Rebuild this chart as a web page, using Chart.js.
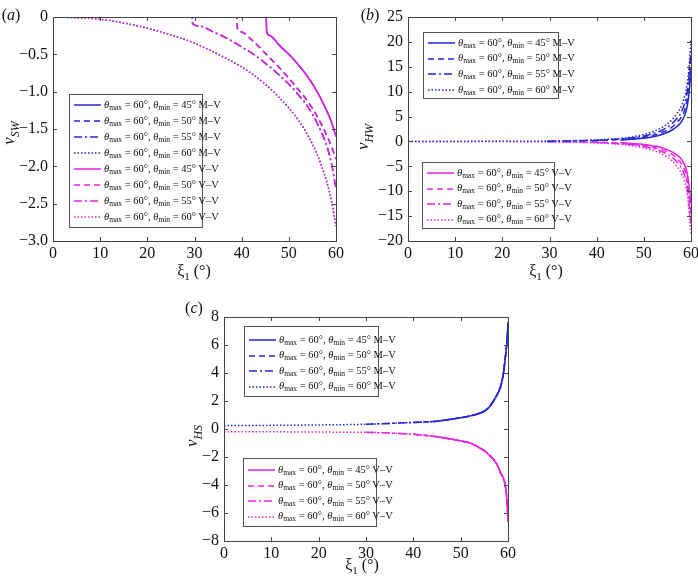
<!DOCTYPE html>
<html><head><meta charset="utf-8">
<script src="https://cdn.jsdelivr.net/npm/chart.js@4/dist/chart.umd.min.js"></script>
<style>
body{margin:0;background:#fff;width:698px;height:583px;position:relative;overflow:hidden;font-family:"Liberation Serif",serif;color:#111;}
canvas{position:absolute;}
.lbl{position:absolute;font-family:"Liberation Serif",serif;font-size:16px;color:#111;white-space:nowrap;transform:translate(-50%,-50%);}
.ytitle{transform:translate(-50%,-50%) rotate(-90deg);font-size:17px;}
.ytitle sub{font-size:12px;}
.legend{position:absolute;border:1px solid #555;background:#fff;box-sizing:border-box;}
.row{position:absolute;left:0;height:14px;display:flex;align-items:center;font-size:10.5px;white-space:nowrap;font-family:"Liberation Serif",serif;color:#111;}
.row sub{font-size:7.5px;vertical-align:-2px;}
.row svg{margin-right:3px;}
</style>
</head><body>
<canvas id="ca" width="350" height="290"></canvas>
<canvas id="cb" width="348" height="290"></canvas>
<canvas id="cc" width="380" height="293"></canvas>
<script>
// ---------- data ----------
const xTicks = [0, 10, 20, 30, 40, 50, 60];
const seriesLabels = ["45°", "50°", "55°", "60°"];
// (a) v_SW
const xiA45 = [0, 45.2, 45.3, 46, 48, 50, 52, 54, 56, 58, 59, 60];
const vSW45 = [0, 0, -0.2, -0.25, -0.38, -0.5, -0.64, -0.8, -1.0, -1.25, -1.4, -1.6];
const xiA50 = [0, 39, 39.1, 40, 42, 44, 46, 48, 50, 52, 54, 56, 58, 59, 60];
const vSW50 = [0, 0, -0.15, -0.2, -0.3, -0.42, -0.55, -0.68, -0.82, -0.97, -1.13, -1.33, -1.58, -1.73, -1.9];
const xiA55 = [0, 29.5, 29.6, 31, 34, 37, 40, 43, 46, 48, 50, 52, 54, 56, 58, 59, 60];
const vSW55 = [0, 0, -0.09, -0.12, -0.2, -0.29, -0.4, -0.52, -0.67, -0.78, -0.9, -1.04, -1.2, -1.42, -1.72, -1.95, -2.3];
const xiA60 = [0, 5, 10, 15, 20, 25, 30, 35, 40, 45, 50, 52, 54, 56, 58, 59, 60];
const vSW60 = [0, -0.01, -0.03, -0.08, -0.15, -0.24, -0.35, -0.5, -0.67, -0.9, -1.22, -1.38, -1.58, -1.84, -2.2, -2.45, -2.8];
// (b) v_HW
const xiB45 = [45, 48, 50, 52, 54, 56, 57, 58, 59, 59.5, 60];
const vHW45MV = [0.3, 0.48, 0.65, 0.95, 1.45, 2.3, 3.0, 4.0, 6.2, 9, 14];
const vHW45VV = [-0.28, -0.44, -0.6, -0.9, -1.3, -2.1, -2.7, -3.6, -5.6, -8.2, -12.5];
const xiB50 = [39, 42, 45, 48, 50, 52, 54, 56, 57, 58, 59, 59.5, 60];
const vHW50MV = [0.15, 0.25, 0.4, 0.62, 0.85, 1.25, 1.85, 2.9, 3.8, 5.0, 7.5, 11, 16.5];
const vHW50VV = [-0.14, -0.23, -0.37, -0.58, -0.8, -1.15, -1.7, -2.6, -3.4, -4.5, -6.8, -10, -14.5];
const xiB55 = [29.5, 35, 40, 45, 48, 50, 52, 54, 56, 57, 58, 59, 59.5, 60];
const vHW55MV = [0.05, 0.12, 0.25, 0.5, 0.8, 1.1, 1.6, 2.3, 3.6, 4.6, 6.0, 9, 12.5, 18.5];
const vHW55VV = [-0.05, -0.11, -0.23, -0.46, -0.72, -1.0, -1.45, -2.1, -3.2, -4.1, -5.4, -8, -11.5, -16.5];
const xiB60 = [0, 10, 20, 30, 35, 40, 45, 48, 50, 52, 54, 56, 57, 58, 59, 59.5, 60];
const vHW60MV = [0, 0.01, 0.03, 0.08, 0.15, 0.3, 0.62, 1.0, 1.4, 2.0, 2.9, 4.4, 5.6, 7.2, 10.5, 14, 20.5];
const vHW60VV = [0, -0.01, -0.03, -0.08, -0.14, -0.28, -0.58, -0.92, -1.3, -1.8, -2.6, -3.9, -5.0, -6.5, -9.5, -13, -18.5];
// (c) v_HS
const xiC = [0, 10, 20, 30, 35, 40, 45, 48, 50, 52, 54, 55, 56, 57, 58, 58.5, 59, 59.5, 59.8, 60];
const vHSMV = [0.24, 0.26, 0.29, 0.34, 0.4, 0.47, 0.56, 0.7, 0.8, 0.93, 1.12, 1.28, 1.55, 2.05, 2.65, 3.1, 3.9, 5.3, 6.3, 7.6];
const vHSVV = [-0.19, -0.2, -0.22, -0.24, -0.29, -0.38, -0.55, -0.72, -0.85, -1.0, -1.35, -1.55, -1.85, -2.2, -2.75, -3.2, -3.5, -4.2, -5.2, -6.6];
const startC = [45, 39, 29.5, 0];

// ---------- styles ----------
const BLUE = "#2323d8", MAG = "#e822e2";
const DASHES = [[], [6, 4], [8, 3, 2, 3], [1.5, 2]];

function pts(xs, ys) { return xs.map((x, i) => ({ x: x, y: ys[i] })); }
function ds(xs, ys, color, k) {
  return { data: pts(xs, ys), borderColor: color, borderWidth: 1.5, borderDash: DASHES[k],
           pointRadius: 0, fill: false, cubicInterpolationMode: "monotone" };
}
function fmtMinus(v, dec) {
  if (v === 0) return "0";
  const s = Math.abs(v).toFixed(dec);
  return (v < 0 ? "\u2212" : "") + s;
}

const framePlugin = {
  id: "frame",
  afterDraw(chart) {
    const { ctx, chartArea: a, scales } = chart;
    ctx.save();
    ctx.strokeStyle = "#444"; ctx.lineWidth = 1;
    ctx.strokeRect(Math.round(a.left) + 0.5, Math.round(a.top) + 0.5, Math.round(a.right - a.left), Math.round(a.bottom - a.top));
    ctx.beginPath();
    scales.x.ticks.forEach(t => {
      const px = Math.round(scales.x.getPixelForValue(t.value)) + 0.5;
      ctx.moveTo(px, a.bottom); ctx.lineTo(px, a.bottom - 4);
      ctx.moveTo(px, a.top); ctx.lineTo(px, a.top + 4);
    });
    scales.y.ticks.forEach(t => {
      const py = Math.round(scales.y.getPixelForValue(t.value)) + 0.5;
      ctx.moveTo(a.left, py); ctx.lineTo(a.left + 4, py);
      ctx.moveTo(a.right, py); ctx.lineTo(a.right - 4, py);
    });
    ctx.stroke();
    ctx.restore();
  }
};

const YW = 50;
function mk(id, box, datasets, yMin, yMax, yStep, dec) {
  const cv = document.getElementById(id);
  cv.style.left = box.left + "px"; cv.style.top = box.top + "px";
  const font = { family: "Liberation Serif", size: 16 };
  return new Chart(cv, {
    type: "line",
    data: { datasets: datasets },
    plugins: [framePlugin],
    options: {
      responsive: false, animation: false,
      layout: { padding: { left: box.al - box.left - YW, top: box.at - box.top, right: box.left + box.w - box.ar, bottom: 0 } },
      plugins: { legend: { display: false }, tooltip: { enabled: false } },
      scales: {
        x: { type: "linear", min: 0, max: 60,
             afterBuildTicks: s => { s.ticks = xTicks.map(v => ({ value: v })); },
             afterFit: s => { s.height = box.top + box.h - box.ab; s.paddingLeft = 0; s.paddingRight = 0; },
             grid: { display: false, drawTicks: false, tickLength: 0 }, border: { display: false },
             ticks: { font: font, color: "#111", padding: 3, maxRotation: 0, callback: v => String(v) } },
        y: { type: "linear", min: yMin, max: yMax,
             ticks: { stepSize: yStep, font: font, color: "#111", padding: 5, callback: v => fmtMinus(v, dec) },
             afterFit: s => { s.width = YW; s.paddingTop = 0; s.paddingBottom = 0; },
             grid: { display: false, drawTicks: false, tickLength: 0 }, border: { display: false } }
      }
    }
  });
}

// (a)
const dsA = [];
[[xiA45, vSW45], [xiA50, vSW50], [xiA55, vSW55], [xiA60, vSW60]].forEach((p, k) => dsA.push(ds(p[0], p[1], MAG, k)));
[[xiA45, vSW45], [xiA50, vSW50], [xiA55, vSW55], [xiA60, vSW60]].forEach((p, k) => dsA.push(ds(p[0], p[1], BLUE, k)));
mk("ca", { left: 0, top: 0, w: 350, h: 290, al: 53, at: 17, ar: 336, ab: 241 }, dsA, -3, 0, 0.5, 1);

// (b)
const dsB = [
  ds(xiB45, vHW45MV, BLUE, 0), ds(xiB50, vHW50MV, BLUE, 1), ds(xiB55, vHW55MV, BLUE, 2), ds(xiB60, vHW60MV, BLUE, 3),
  ds(xiB45, vHW45VV, MAG, 0), ds(xiB50, vHW50VV, MAG, 1), ds(xiB55, vHW55VV, MAG, 2), ds(xiB60, vHW60VV, MAG, 3)
];
mk("cb", { left: 350, top: 0, w: 348, h: 290, al: 408, at: 17, ar: 691, ab: 241 }, dsB, -20, 25, 5, 0);

// (c)
const dsC = [];
startC.forEach((s0, k) => {
  const idx = xiC.map((x, i) => i).filter(i => xiC[i] >= s0);
  dsC.push(ds(idx.map(i => xiC[i]), idx.map(i => vHSMV[i]), BLUE, k));
});
startC.forEach((s0, k) => {
  const idx = xiC.map((x, i) => i).filter(i => xiC[i] >= s0);
  dsC.push(ds(idx.map(i => xiC[i]), idx.map(i => vHSVV[i]), MAG, k));
});
mk("cc", { left: 150, top: 290, w: 380, h: 293, al: 224, at: 317, ar: 508, ab: 541 }, dsC, -8, 8, 2, 0);

// ---------- html text ----------
function addLbl(html, x, y, cls) {
  const d = document.createElement("div");
  d.className = "lbl" + (cls ? " " + cls : "");
  d.innerHTML = html; d.style.left = x + "px"; d.style.top = y + "px";
  document.body.appendChild(d);
}
addLbl("(<i>a</i>)", 11, 15); addLbl("(<i>b</i>)", 370, 15); addLbl("(<i>c</i>)", 194, 308);
addLbl("<i>v</i><sub><i>SW</i></sub>", 11, 133, "ytitle");
addLbl("<i>v</i><sub><i>HW</i></sub>", 365, 137, "ytitle");
addLbl("<i>v</i><sub><i>HS</i></sub>", 194, 436, "ytitle");
addLbl("ξ<sub style='font-size:11px'>1</sub> (°)", 194, 272);
addLbl("ξ<sub style='font-size:11px'>1</sub> (°)", 546, 272);
addLbl("ξ<sub style='font-size:11px'>1</sub> (°)", 362, 566);

function lineSvg(color, k) {
  const da = DASHES[k].length ? DASHES[k].join(",") : "none";
  return `<svg width="27" height="6"><line x1="0" y1="3" x2="27" y2="3" stroke="${color}" stroke-width="1.5" stroke-dasharray="${da}"/></svg>`;
}
function legend(x, y, w, h, rows, rowStep, firstRow) {
  const d = document.createElement("div");
  d.className = "legend";
  d.style.left = x + "px"; d.style.top = y + "px"; d.style.width = w + "px"; d.style.height = h + "px";
  rows.forEach((r, i) => {
    const row = document.createElement("div");
    row.className = "row";
    row.style.top = (firstRow + i * rowStep - 7) + "px";
    row.style.left = "4px";
    row.innerHTML = lineSvg(r.color, r.k) +
      `<span><i>θ</i><sub>max</sub> = 60°, <i>θ</i><sub>min</sub> = ${seriesLabels[r.k]} ${r.tag}</span>`;
    d.appendChild(row);
  });
  document.body.appendChild(d);
}
const mvRows = [0, 1, 2, 3].map(k => ({ color: BLUE, k: k, tag: "M–V" }));
const vvRows = [0, 1, 2, 3].map(k => ({ color: MAG, k: k, tag: "V–V" }));
legend(69, 94, 134, 134, mvRows.concat(vvRows), 16, 10);
legend(423, 32, 136, 67, mvRows, 15.7, 10);
legend(422, 162, 133, 67, vvRows, 15.5, 10);
legend(244, 326, 135, 71, mvRows, 15.5, 13);
legend(243, 458, 134, 69, vvRows, 15.5, 11);
</script>
</body></html>
